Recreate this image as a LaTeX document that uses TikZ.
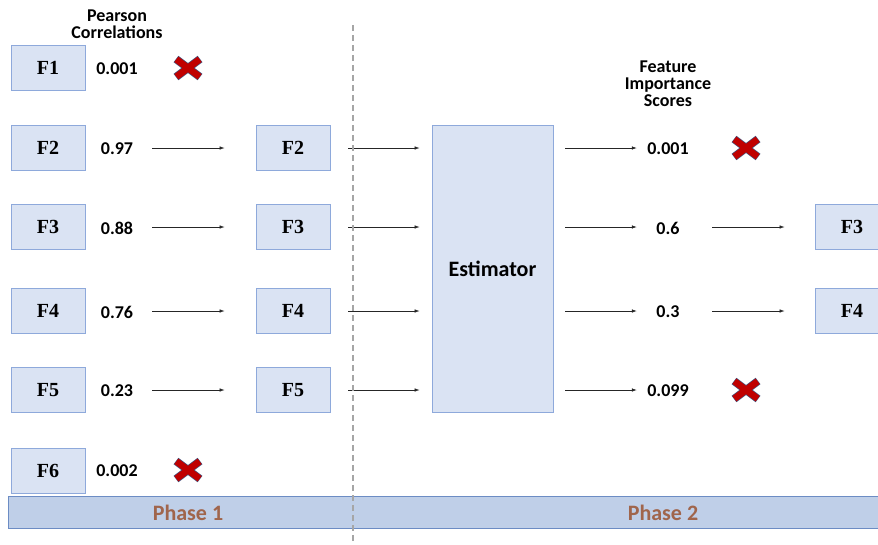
\documentclass[tikz,border=0pt]{standalone}
\usepackage{fontspec}
\setmainfont{Liberation Serif}
\newfontfamily\carlitofont{Carlito}
\usetikzlibrary{arrows.meta}
\definecolor{boxfill}{HTML}{DAE3F3}
\definecolor{boxdraw}{HTML}{8EA9DB}
\definecolor{barfill}{HTML}{BFCFE8}
\definecolor{bardraw}{HTML}{6C8CC4}
\definecolor{phasetxt}{HTML}{A0654C}
\definecolor{xred}{HTML}{C00000}
\definecolor{xedge}{HTML}{44507A}
\tikzset{
  fbox/.style={draw=boxdraw, fill=boxfill, line width=0.8pt, minimum width=74pt, minimum height=45pt, inner sep=0pt, font=\fontsize{20}{22}\selectfont\bfseries},
  val/.style={inner sep=0pt, minimum width=40pt, font=\carlitofont\fontsize{18}{20}\selectfont\bfseries},
  rval/.style={inner sep=0pt, minimum width=46pt, font=\carlitofont\fontsize{18}{20}\selectfont\bfseries},
  head/.style={align=center, inner sep=0pt, font=\carlitofont\fontsize{18}{20}\selectfont\bfseries},
  arr/.style={draw=black!85, line width=0.6pt, -{Latex[length=5pt,width=3.5pt]}},
  xmark/.pic={
    \draw[xedge, line width=8pt] (-12,-9) -- (12,9) (-12,9) -- (12,-9);
    \draw[xred, line width=6.6pt] (-11.6,-8.7) -- (11.6,8.7) (-11.6,8.7) -- (11.6,-8.7);
  }
}
\begin{document}
\begin{tikzpicture}[x=1pt,y=-1pt]
\useasboundingbox (0,0) rectangle (878,544);
% headers
\node[head] (hp) at (117,24) {Pearson\\[-3pt]Correlations};
\node[head] (hf) at (668,84) {Feature\\[-3pt]Importance\\[-3pt]Scores};
% left column
\node[fbox] (f1) at (48,68) {F1};
\node[fbox] (f2) at (48,148) {F2};
\node[fbox] (f3) at (48,227) {F3};
\node[fbox] (f4) at (48,311) {F4};
\node[fbox] (f5) at (48,390) {F5};
\node[fbox] (f6) at (48,471) {F6};
% correlation values
\node[val] (v1) at (117,69) {0.001};
\node[val] (v2) at (117,149) {0.97};
\node[val] (v3) at (117,228) {0.88};
\node[val] (v4) at (117,312) {0.76};
\node[val] (v5) at (117,391) {0.23};
\node[val] (v6) at (117,471) {0.002};
\pic at (188,68) {xmark};
\pic at (188,470) {xmark};
% middle boxes
\node[fbox] (m2) at (293,148) {F2};
\node[fbox] (m3) at (293,227) {F3};
\node[fbox] (m4) at (293,311) {F4};
\node[fbox] (m5) at (293,390) {F5};
\foreach \i in {2,3,4,5}
  \draw[arr, shorten <=15pt, shorten >=31pt] (v\i.east |- m\i.west) -- (m\i.west);
% estimator
\node[draw=boxdraw, fill=boxfill, line width=0.8pt, minimum width=121pt, minimum height=287pt, inner sep=0pt, font=\carlitofont\fontsize{22}{24}\selectfont\bfseries] (est) at (492.5,268.5) {Estimator};
\foreach \i in {2,3,4,5}
  \draw[arr, shorten <=18pt, shorten >=12pt] (m\i.east) -- (est.west |- m\i.east);
% feature importance values
\node[rval] (r2) at (668,149) {0.001};
\node[rval] (r3) at (668,228) {0.6};
\node[rval] (r4) at (668,312) {0.3};
\node[rval] (r5) at (668,391) {0.099};
\foreach \i in {2,3,4,5}
  \draw[arr, shorten <=12pt, shorten >=8pt] (est.east |- m\i.east) -- (r\i.west |- m\i.east);
\pic at (746,148) {xmark};
\pic at (746,390) {xmark};
% right boxes
\node[fbox] (o3) at (852,227) {F3};
\node[fbox] (o4) at (852,311) {F4};
\draw[arr, shorten <=21pt, shorten >=30pt] (r3.east |- o3.west) -- (o3.west);
\draw[arr, shorten <=21pt, shorten >=30pt] (r4.east |- o4.west) -- (o4.west);
% phase bar
\node[draw=bardraw, fill=barfill, line width=0.8pt, minimum width=880pt, minimum height=32pt, inner sep=0pt] (bar) at (448,512) {};
\node[text=phasetxt, font=\carlitofont\fontsize{22}{24}\selectfont\bfseries] (p1) at (188,513) {Phase 1};
\node[text=phasetxt, font=\carlitofont\fontsize{22}{24}\selectfont\bfseries] (p2) at (663,513) {Phase 2};
% divider
\coordinate (dtop) at (353,25);
\coordinate (dbot) at (353,544);
\draw[black!35, line width=1.2pt, dash pattern=on 6pt off 4pt] (dtop) -- (dbot);
\end{tikzpicture}
\end{document}
